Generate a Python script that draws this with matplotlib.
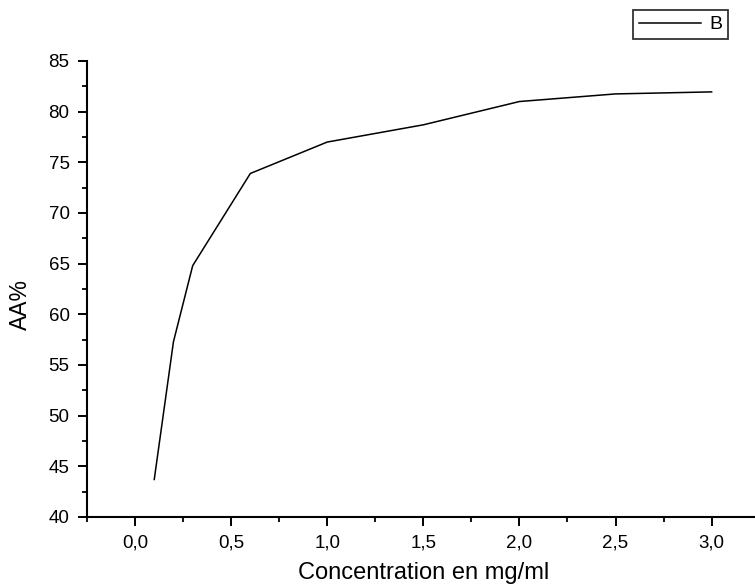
import matplotlib.pyplot as plt
from matplotlib.ticker import MultipleLocator

plt.rcParams['font.family'] = ['Liberation Sans', 'DejaVu Sans']

# concentration (mg/ml) et activite antioxydante (%)
conc = [0.1, 0.2, 0.3, 0.6, 1.0, 1.5, 2.0, 2.5, 3.0]
aa = [43.7, 57.3, 64.8, 73.9, 77.0, 78.7, 81.0, 81.75, 81.95]

xticks = [0.0, 0.5, 1.0, 1.5, 2.0, 2.5, 3.0]
xticklabels = ['0,0', '0,5', '1,0', '1,5', '2,0', '2,5', '3,0']
yticks = [40, 45, 50, 55, 60, 65, 70, 75, 80, 85]

fig = plt.figure(figsize=(7.55, 5.87), dpi=100)
ax = fig.add_axes([0.1152, 0.1193, 0.891, 0.7768])

ax.plot(conc, aa, color='black', lw=1.1, label='B')

ax.set_xlim(-0.25, 3.25)
ax.set_ylim(40, 85)
ax.set_xticks(xticks)
ax.set_xticklabels(xticklabels)
ax.set_yticks(yticks)
ax.xaxis.set_minor_locator(MultipleLocator(0.25))
ax.yaxis.set_minor_locator(MultipleLocator(2.5))

ax.spines['top'].set_visible(False)
ax.spines['right'].set_visible(False)
ax.spines['left'].set_linewidth(1.5)
ax.spines['bottom'].set_linewidth(1.5)
ax.tick_params(which='major', direction='out', length=6.5, width=1.4, labelsize=13.5)
ax.tick_params(which='minor', direction='out', length=3.5, width=1.3)
ax.tick_params(axis='x', which='major', pad=6)
ax.tick_params(axis='y', which='major', pad=6)

ax.set_xlabel('Concentration en mg/ml', fontsize=17, labelpad=8)
ax.set_ylabel('AA%', fontsize=16.5)
ax.yaxis.set_label_coords(-0.082, 0.465)

leg = fig.legend(loc='upper right', bbox_to_anchor=(0.964, 0.983), fontsize=14,
                 frameon=True, fancybox=False, handlelength=3.2, borderpad=0.3,
                 handletextpad=0.4, borderaxespad=0)
leg.get_frame().set_edgecolor('black')
leg.get_frame().set_linewidth(1.3)

fig.savefig('out.png', dpi=100)
